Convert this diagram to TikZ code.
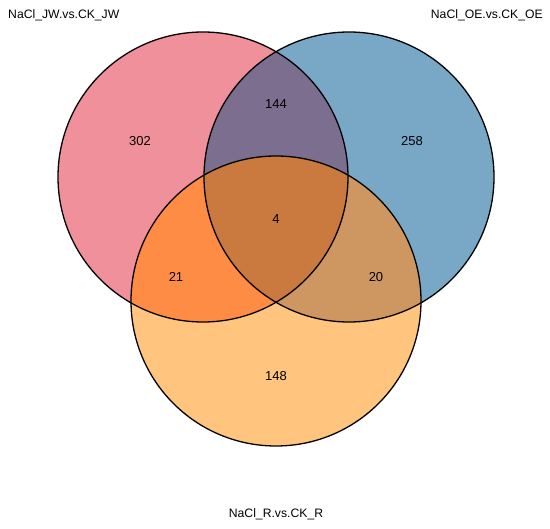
\documentclass[tikz,border=0pt]{standalone}
\usepackage{fontspec}
\setmainfont{Liberation Sans}
\usepackage{tikz}
\usetikzlibrary{positioning,calc}

\definecolor{jwcol}{HTML}{F0909A}
\definecolor{oecol}{HTML}{79A7C6}
\definecolor{rcol}{HTML}{FFC47E}
\definecolor{jwoecol}{HTML}{7B6E8E}
\definecolor{jwrcol}{HTML}{FF8C45}
\definecolor{oercol}{HTML}{CE9660}
\definecolor{allcol}{HTML}{CB7A3F}

\tikzset{
  setline/.style={draw=black,line width=1.3pt},
  cnt/.style={font=\fontsize{13}{15}\selectfont,inner sep=0pt},
  setname/.style={font=\fontsize{12.2}{14}\selectfont,inner sep=0pt}
}

\begin{document}
\begin{tikzpicture}[x=1pt,y=-1pt]
                \useasboundingbox (0,0) rectangle (550,529);
                \coordinate (jw) at (203,177);
                \coordinate (oe) at (349,177);
                \coordinate (r) at (276,301);
                % base circles
                \fill[jwcol] (jw) circle[radius=145];
                \fill[oecol] (oe) circle[radius=145];
                \fill[rcol] (r) circle[radius=145];
                % pairwise overlaps
                \begin{scope}
                    \clip (jw) circle[radius=145];
                    \fill[jwoecol] (oe) circle[radius=145];
                    \fill[jwrcol] (r) circle[radius=145];
                \end{scope}
                \begin{scope}
                    \clip (oe) circle[radius=145];
                    \fill[oercol] (r) circle[radius=145];
                \end{scope}
                \begin{scope}
                    \clip (jw) circle[radius=145];
                    \clip (oe) circle[radius=145];
                    \fill[allcol] (r) circle[radius=145];
                \end{scope}
                % outlines
                \draw[setline] (jw) circle[radius=145];
                \draw[setline] (oe) circle[radius=145];
                \draw[setline] (r) circle[radius=145];
                % counts
                \node[cnt] (n302) at (140,141) {302};
                \node[cnt] (n144) at (276,104) {144};
                \node[cnt] (n258) at (412,141) {258};
                \node[cnt] (n4) at (276,219) {4};
                \node[cnt] (n21) at (176,277) {21};
                \node[cnt] (n20) at (376,277) {20};
                \node[cnt] (n148) at (276,376) {148};
                % set names
                \node[setname,anchor=west] (lbljw) at (8,15.5) {NaCl\_JW.vs.CK\_JW};
                \node[setname,anchor=east] (lbloe) at (543,15.5) {NaCl\_OE.vs.CK\_OE};
                \node[setname] (lblr) at (276,514) {NaCl\_R.vs.CK\_R};
            \end{tikzpicture}
\end{document}
